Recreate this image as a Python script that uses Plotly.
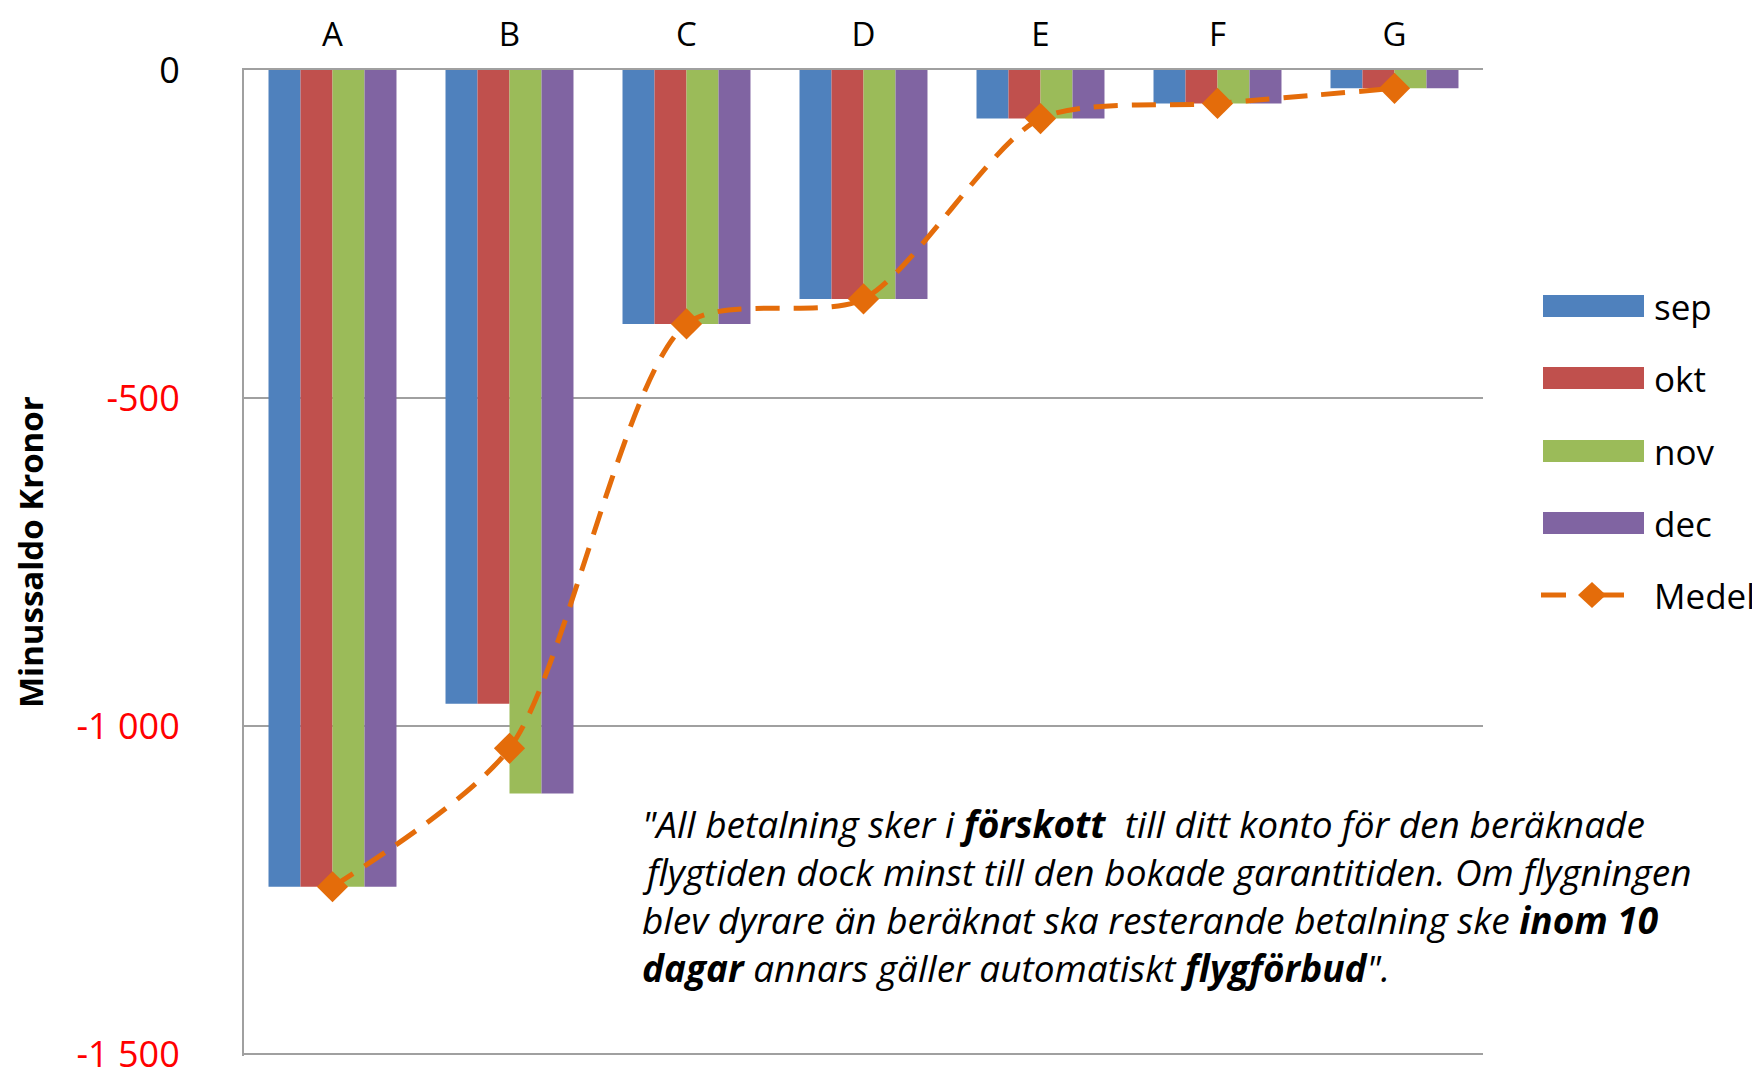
import plotly.graph_objects as go

categories = ["A", "B", "C", "D", "E", "F", "G"]
sep = [-1245, -966, -387, -349, -74, -51, -28]
okt = [-1245, -966, -387, -349, -74, -51, -28]
nov = [-1245, -1103, -387, -349, -74, -51, -28]
dec = [-1245, -1103, -387, -349, -74, -51, -28]
medel = [-1245, -1034, -387, -349, -74, -51, -28]

series_names = ["sep", "okt", "nov", "dec"]
series_values = [sep, okt, nov, dec]
series_colors = ["#4F81BD", "#C0504D", "#9BBB59", "#8064A2"]
medel_name = "Medel"
medel_color = "#E46C0A"

tick_vals = [0, -500, -1000, -1500]
tick_text = ['<span style="color:#000000">0</span>', "-500", "-1 000", "-1 500"]
y_title = "Minussaldo Kronor"

note_lines = [
    '"All betalning sker i <b>förskott</b>  till ditt konto för den beräknade',
    "flygtiden dock minst till den bokade garantitiden. Om flygningen",
    "blev dyrare än beräknat ska resterande betalning ske <b>inom 10</b>",
    '<b>dagar</b> annars gäller automatiskt <b>flygförbud</b>".',
]

FONT = "Open Sans"

# page geometry (pixels); the html body adds an 8px offset
OFF = 8
W, H = 1752, 1063
L, R, T, B = 236, 277, 62, 15
plot_w = W - L - R
plot_h = H - T - B


def px(X):
    return (X - OFF - L) / plot_w


def py(Y):
    return 1 - (Y - OFF - T) / plot_h


fig = go.Figure()
for name, vals, col in zip(series_names, series_values, series_colors):
    fig.add_trace(go.Bar(
        x=categories, y=vals, name=name, marker_color=col,
        marker_line_width=0, showlegend=False,
    ))

fig.add_trace(go.Scatter(
    x=categories, y=medel, name=medel_name, mode="lines+markers",
    line=dict(color=medel_color, width=5, dash="24px,14px", shape="spline", smoothing=0.75),
    marker=dict(symbol="diamond", size=24, color=medel_color),
    showlegend=False,
))

# y axis title
fig.add_annotation(
    text="<b>" + y_title + "</b>", xref="paper", yref="paper",
    x=px(30), y=py(552), xanchor="center", yanchor="middle", textangle=-90,
    showarrow=False, font=dict(family=FONT, size=33, color="#000000"),
)

# note text (one annotation per line to match the line spacing)
line_y = [823, 871, 919, 967]
for txt, yy in zip(note_lines, line_y):
    fig.add_annotation(
        text="<i>" + txt + "</i>", xref="paper", yref="paper",
        x=px(640), y=py(yy), xanchor="left", yanchor="middle",
        showarrow=False, font=dict(family=FONT, size=37, color="#000000"),
    )

# legend (drawn manually to get the wide swatches)
leg_x0, leg_x1, text_x = 1543, 1644, 1652
leg_rows = [306, 378, 451, 523, 595]
shapes = []
for name, col, yy in zip(series_names, series_colors, leg_rows):
    shapes.append(dict(
        type="rect", xref="paper", yref="paper",
        x0=px(leg_x0), x1=px(leg_x1), y0=py(yy - 11), y1=py(yy + 11),
        fillcolor=col, line=dict(width=0),
    ))
    fig.add_annotation(
        text=name, xref="paper", yref="paper", x=px(text_x), y=py(yy),
        xanchor="left", yanchor="middle", showarrow=False,
        font=dict(family=FONT, size=35, color="#000000"),
    )
ym = leg_rows[4]
shapes.append(dict(type="line", xref="paper", yref="paper",
                   x0=px(1541), x1=px(1566), y0=py(ym), y1=py(ym),
                   line=dict(color=medel_color, width=5)))
shapes.append(dict(type="line", xref="paper", yref="paper",
                   x0=px(1600), x1=px(1624), y0=py(ym), y1=py(ym),
                   line=dict(color=medel_color, width=5)))
shapes.append(dict(type="path", xref="paper", yref="paper",
                   xsizemode="pixel", ysizemode="pixel",
                   xanchor=px(1592), yanchor=py(ym),
                   path="M -14 0 L 0 13 L 14 0 L 0 -13 Z",
                   fillcolor=medel_color, line=dict(width=0)))
fig.add_annotation(
    text=medel_name, xref="paper", yref="paper", x=px(text_x), y=py(ym),
    xanchor="left", yanchor="middle", showarrow=False,
    font=dict(family=FONT, size=35, color="#000000"),
)

fig.update_layout(
    width=W, height=H,
    margin=dict(l=L, r=R, t=T, b=B, pad=0),
    paper_bgcolor="white", plot_bgcolor="white",
    barmode="group", bargap=0.277, bargroupgap=0,
    font=dict(family=FONT, color="#000000"),
    showlegend=False,
    shapes=shapes,
)

fig.update_xaxes(
    side="top", showline=True, linecolor="#A0A0A0", linewidth=2,
    showgrid=False, ticks="", tickfont=dict(family=FONT, size=33, color="#000000"),
    ticklabelstandoff=9, automargin=False,
)
fig.update_yaxes(
    range=[-1503, 0], tickvals=tick_vals, ticktext=tick_text,
    tickfont=dict(family=FONT, size=36, color="#FF0000"),
    showline=True, linecolor="#A0A0A0", linewidth=2,
    showgrid=True, gridcolor="#A0A0A0", gridwidth=2,
    zeroline=False, ticks="", ticklabelstandoff=55, automargin=False,
    ticklabeloverflow="allow",
)

fig.write_html("out.html")
